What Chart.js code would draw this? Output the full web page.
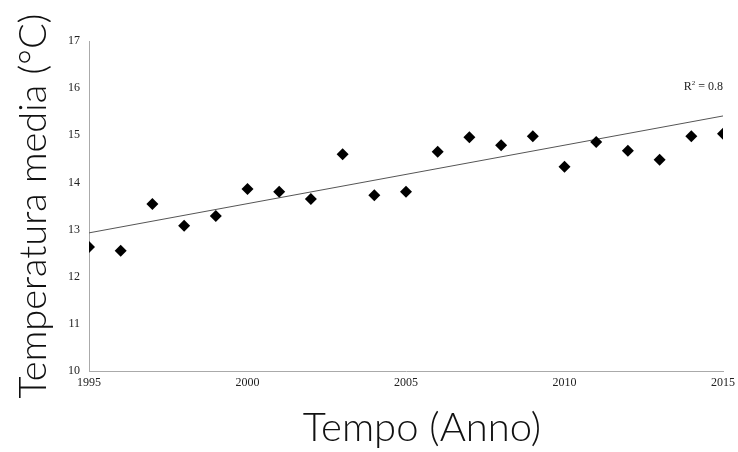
<!DOCTYPE html>
<html>
<head>
<meta charset="utf-8">
<script src="https://cdn.jsdelivr.net/npm/chart.js@4"></script>
<style>
  html, body { margin: 0; padding: 0; background: #fff; }
  #wrap { width: 738px; height: 452px; }
</style>
</head>
<body>
<div id="wrap"><canvas id="tempChart"></canvas></div>
<script>
// data
const years = [1995, 1996, 1997, 1998, 1999, 2000, 2001, 2002, 2003, 2004, 2005,
               2006, 2007, 2008, 2009, 2010, 2011, 2012, 2013, 2014, 2015];
const temps = [12.63, 12.55, 13.54, 13.08, 13.29, 13.86, 13.80, 13.65, 14.60, 13.73, 13.80,
               14.65, 14.96, 14.79, 14.98, 14.33, 14.86, 14.67, 14.48, 14.98, 15.03];
const trendYears = [1995, 2015];
const trendTemps = [12.93, 15.41];
const xTicks = [1995, 2000, 2005, 2010, 2015];
const yTicks = [10, 11, 12, 13, 14, 15, 16, 17];
const xTitle = 'Tempo (Anno)';
const yTitle = 'Temperatura media (°C)';

const tickFont = { family: 'Liberation Serif', size: 12 };

// R² note + x title (the x title sits a bit right of the plot centre)
const notesPlugin = {
  id: 'notes',
  afterDraw(chart) {
    const { ctx, scales, chartArea } = chart;
    ctx.save();
    ctx.fillStyle = '#222';
    ctx.textBaseline = 'alphabetic';
    const right = scales.x.getPixelForValue(2015);
    const base = scales.y.getPixelForValue(15.96);
    ctx.font = '12px "Liberation Serif"';
    ctx.textAlign = 'right';
    const rest = ' = 0.8';
    ctx.fillText(rest, right, base);
    const restW = ctx.measureText(rest).width;
    ctx.font = '7px "Liberation Serif"';
    ctx.fillText('2', right - restW, base - 5);
    const supW = ctx.measureText('2').width;
    ctx.font = '12px "Liberation Serif"';
    ctx.fillText('R', right - restW - supW, base);

    ctx.font = '300 40px Lato';
    ctx.fillStyle = '#111';
    ctx.textAlign = 'center';
    ctx.textBaseline = 'middle';
    ctx.fillText(xTitle, (chartArea.left + chartArea.right) / 2 + 16, 428);
    ctx.restore();
  }
};

new Chart(document.getElementById('tempChart'), {
  type: 'scatter',
  data: {
    datasets: [
      {
        label: 'Temperatura',
        data: years.map((y, i) => ({ x: y, y: temps[i] })),
        pointStyle: 'rectRot',
        pointRadius: 6,
        backgroundColor: '#000',
        borderColor: '#000',
        borderWidth: 0
      },
      {
        label: 'Tendenza',
        type: 'line',
        data: trendYears.map((y, i) => ({ x: y, y: trendTemps[i] })),
        borderColor: '#555',
        borderWidth: 1,
        pointRadius: 0,
        fill: false
      }
    ]
  },
  options: {
    responsive: true,
    maintainAspectRatio: false,
    animation: false,
    layout: { padding: { top: 41, right: 15, bottom: 0, left: 0 } },
    plugins: {
      legend: { display: false },
      tooltip: { enabled: false }
    },
    scales: {
      x: {
        type: 'linear',
        min: 1995,
        max: 2015,
        afterBuildTicks: (scale) => { scale.ticks = xTicks.map(v => ({ value: v })); },
        afterFit: (scale) => { scale.height = 81; },
        ticks: {
          font: tickFont,
          color: '#222',
          padding: 1,
          maxRotation: 0,
          callback: (v) => String(v)
        },
        grid: { display: false, drawTicks: true, tickLength: 4, color: '#aaa' },
        border: { color: '#aaa', width: 1 }
      },
      y: {
        min: 10,
        max: 17,
        afterBuildTicks: (scale) => { scale.ticks = yTicks.map(v => ({ value: v })); },
        afterFit: (scale) => { scale.width = 89; },
        ticks: {
          font: tickFont,
          color: '#222',
          padding: 5
        },
        grid: { display: false, drawTicks: true, tickLength: 4, color: '#aaa' },
        border: { color: '#aaa', width: 1 },
        title: {
          display: true,
          text: yTitle,
          font: { family: 'Lato', size: 38, weight: 300 },
          color: '#111',
          padding: { top: 11, bottom: 0 }
        }
      }
    }
  },
  plugins: [notesPlugin]
});
</script>
</body>
</html>
